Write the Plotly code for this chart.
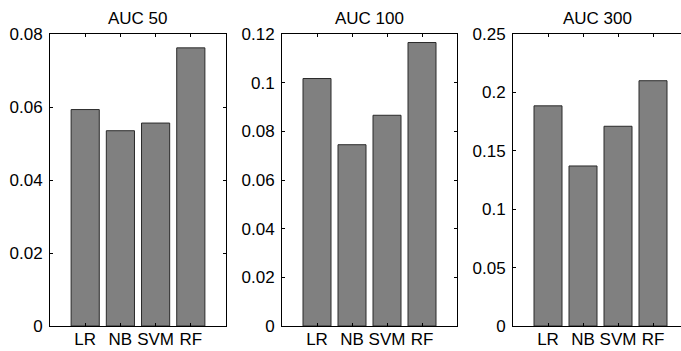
import plotly.graph_objects as go

categories = ["LR", "NB", "SVM", "RF"]
auc50 = [0.0593, 0.0535, 0.0556, 0.0762]
auc100 = [0.1017, 0.0745, 0.0866, 0.1165]
auc300 = [0.1885, 0.1370, 0.1710, 0.2100]
titles = ["AUC 50", "AUC 100", "AUC 300"]
yranges = [0.08, 0.12, 0.25]
ydticks = [0.02, 0.02, 0.05]

W, H = 681, 351
xdoms = [(50, 226), (282, 457), (513, 681)]
xmax = [5, 5, (681 - 513) / 35.0]
ytop, ybot = 34, 326

FONT = "Liberation Sans, Arial, sans-serif"
FS = 17

fig = go.Figure()
series = [auc50, auc100, auc300]
for i, vals in enumerate(series):
    xa = "x" if i == 0 else f"x{i+1}"
    ya = "y" if i == 0 else f"y{i+1}"
    fig.add_trace(go.Bar(
        x=[1, 2, 3, 4], y=vals, width=0.8,
        marker=dict(color="#808080", line=dict(color="#2a2a2a", width=1)),
        xaxis=xa, yaxis=ya, showlegend=False, hoverinfo="skip",
    ))

layout = dict(
    width=W, height=H, margin=dict(l=0, r=0, t=0, b=0, autoexpand=False),
    paper_bgcolor="white", plot_bgcolor="white",
    font=dict(family=FONT, size=FS, color="black"),
)
annotations = []
for i in range(3):
    xk = "xaxis" if i == 0 else f"xaxis{i+1}"
    yk = "yaxis" if i == 0 else f"yaxis{i+1}"
    x0, x1 = xdoms[i]
    ya = "y" if i == 0 else f"y{i+1}"
    xa = "x" if i == 0 else f"x{i+1}"
    mirror = "ticks" if i < 2 else False
    layout[xk] = dict(
        domain=[x0 / W, x1 / W], range=[0, xmax[i]], anchor=ya,
        tickvals=[1, 2, 3, 4], ticktext=categories,
        ticks="inside", ticklen=3, tickcolor="black",
        showline=True, linecolor="black", linewidth=1, mirror="ticks",
        showgrid=False, zeroline=False, fixedrange=True, automargin=False,
        ticklabelstandoff=-2,
        tickfont=dict(family=FONT, size=FS, color="black"),
    )
    nt = int(round(yranges[i] / ydticks[i]))
    tv = [round(k * ydticks[i], 4) for k in range(nt + 1)]
    tt = [("%g" % v) for v in tv]
    layout[yk] = dict(
        domain=[1 - ybot / H, 1 - ytop / H], range=[0, yranges[i]], anchor=xa,
        tickvals=tv, ticktext=tt,
        ticks="inside", ticklen=3, tickcolor="black",
        showline=True, linecolor="black", linewidth=1, mirror=mirror,
        showgrid=False, zeroline=False, fixedrange=True, automargin=False,
        ticklabelstandoff=3,
        tickfont=dict(family=FONT, size=FS, color="black"),
    )
    annotations.append(dict(
        text=titles[i], xref="paper", yref="paper",
        x=(x0 + min(x1, x0 + 175)) / 2 / W, y=1 - 19 / H,
        xanchor="center", yanchor="middle", showarrow=False,
        font=dict(family=FONT, size=FS, color="black"),
    ))
layout["annotations"] = annotations
fig.update_layout(**layout)
fig.write_html("out.html", config={"displayModeBar": False},
               post_script="document.body.style.margin='0';document.body.style.overflow='hidden';")
